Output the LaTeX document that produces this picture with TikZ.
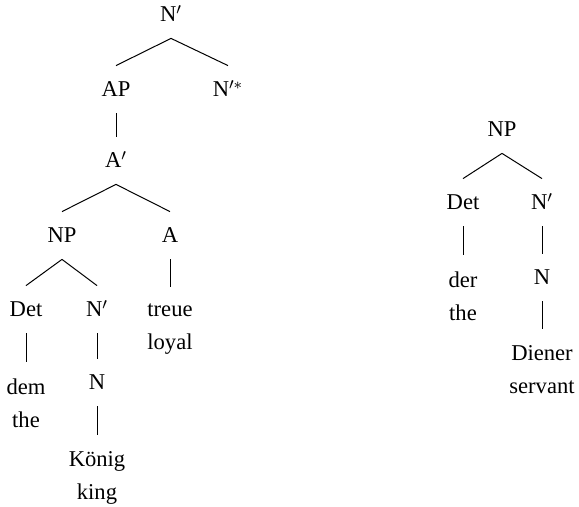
\documentclass[tikz,border=0pt]{standalone}
\usepackage{fontspec}
\setmainfont{Liberation Serif}
\usepackage{tikz}
\usetikzlibrary{positioning}

\begin{document}
\begin{tikzpicture}[x=0.5pt, y=-0.5pt,
  every node/.style={inner xsep=1pt, inner ysep=8pt, font=\fontsize{11.3}{16.5}\selectfont},
  cat/.style={anchor=base, text height=7.5pt, text depth=0pt},
  leaf/.style={anchor=north, align=center},
  edge/.style={line width=0.5pt}]
  \useasboundingbox (0,0) rectangle (579,507);
  % left tree
  \node[cat] (nbar) at (171,22) {N$'$};
  \node[cat] (ap) at (116,97) {AP};
  \node[cat] (nbarstar) at (228,97) {N$'^{*}$};
  \node[cat] (abar) at (116,168) {A$'$};
  \node[cat] (np) at (62,243) {NP};
  \node[cat] (a) at (170,243) {A};
  \node[cat] (det) at (26,317) {Det};
  \node[cat] (nbartwo) at (97,317) {N$'$};
  \node[leaf] (treue) at (170,287) {treue\\loyal};
  \node[leaf] (dem) at (26,362) {dem\\the};
  \node[cat] (n) at (97,390) {N};
  \node[leaf] (koenig) at (97,435) {König\\king};
  \draw[edge] (nbar.south) -- (ap.north);
  \draw[edge] (nbar.south) -- (nbarstar.north);
  \draw[edge] (ap.south) -- (abar.north);
  \draw[edge] (abar.south) -- (np.north);
  \draw[edge] (abar.south) -- (a.north);
  \draw[edge] (np.south) -- (det.north);
  \draw[edge] (np.south) -- (nbartwo.north);
  \draw[edge] (a.south) -- (treue.north);
  \draw[edge] (det.south) -- (dem.north);
  \draw[edge] (nbartwo.south) -- (n.north);
  \draw[edge] (n.south) -- (koenig.north);
  % right tree
  \node[cat] (npr) at (502,137) {NP};
  \node[cat] (detr) at (463,210) {Det};
  \node[cat] (nbarr) at (542,210) {N$'$};
  \node[leaf] (der) at (463,255) {der\\the};
  \node[cat] (nr) at (542,285) {N};
  \node[leaf] (diener) at (542,329) {Diener\\servant};
  \draw[edge] (npr.south) -- (detr.north);
  \draw[edge] (npr.south) -- (nbarr.north);
  \draw[edge] (detr.south) -- (der.north);
  \draw[edge] (nbarr.south) -- (nr.north);
  \draw[edge] (nr.south) -- (diener.north);
\end{tikzpicture}
\end{document}
